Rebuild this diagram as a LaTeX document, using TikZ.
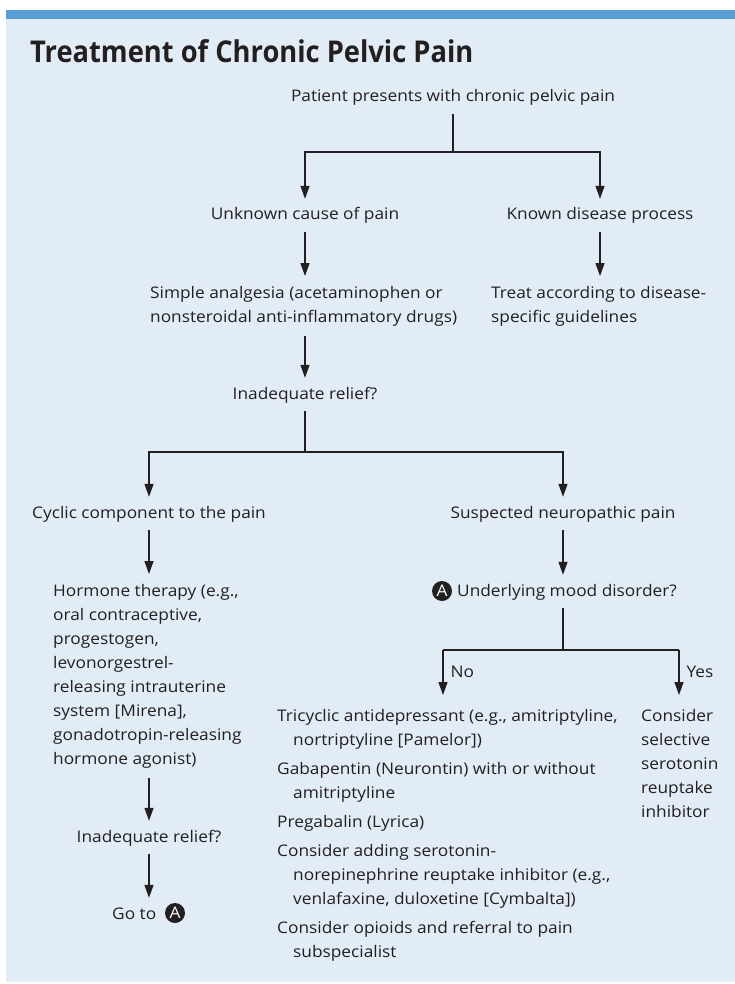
\documentclass[tikz,border=0pt]{standalone}
\usepackage{fontspec}
\setmainfont{Open Sans}[FakeStretch=1.08]
\newfontfamily\headfamily{Open Sans}[FakeStretch=0.91]
\usetikzlibrary{arrows.meta, positioning}
\definecolor{panel}{HTML}{E2ECF7}
\definecolor{bar}{HTML}{5A9FD4}
\definecolor{ink}{HTML}{231F20}
\newcommand*{\bodyfont}{\fontsize{16}{24}\selectfont}
\newcommand*{\headfont}{\headfamily\bfseries\fontsize{30}{36}\selectfont}
\tikzstyle{entry} = [inner sep=0pt, text=ink, font=\bodyfont, text height=21pt, text depth=12pt, anchor=base]
\tikzstyle{block} = [inner xsep=0pt, inner ysep=10pt, text=ink, font=\bodyfont, align=left, anchor=north west]
\tikzstyle{answer} = [inner sep=0pt, text=ink, font=\bodyfont, anchor=base west]
\tikzstyle{marker} = [circle, fill=ink, text=white, inner sep=0pt, minimum size=20pt, font=\bodyfont]
\tikzstyle{wire} = [draw=ink, line width=1.3pt]
\tikzstyle{link} = [wire, -{Triangle[length=13pt, width=9pt]}]

\begin{document}
\begin{tikzpicture}[x=1pt, y=-1pt]
    \useasboundingbox (0,0) rectangle (735,984);
    \fill [panel] (6,10) rectangle (735,982);
    \fill [bar] (6,10) rectangle (735,19);
    \node (title) [anchor=base west, inner sep=0pt, text=ink, font=\headfont] at (30,63) {Treatment of Chronic Pelvic Pain};

    % Top of the tree.
    \node (patient) [entry] at (453,102) {Patient presents with chronic pelvic pain};
    \node (unknown) [entry] at (305,220) {Unknown cause of pain};
    \node (known) [entry] at (600,220) {Known disease process};
    \node (analgesia) [block] at (150,276) {Simple analgesia (acetaminophen or\\nonsteroidal anti-inflammatory drugs)};
    \node (treat) [block] at (491,276) {Treat according to disease-\\specific guidelines};
    \node (relief) [entry] at (305,399) {Inadequate relief?};

    % Left branch.
    \node (cyclic) [entry] at (149,518) {Cyclic component to the pain};
    \node (hormone) [block] at (53,574) {Hormone therapy (e.g.,\\oral contraceptive,\\progestogen,\\levonorgestrel-\\releasing intrauterine\\system [Mirena],\\gonadotropin-releasing\\hormone agonist)};
    \node (relief again) [entry] at (149,842) {Inadequate relief?};
    \node (goto) [entry, anchor=base west] at (112,919) {Go to};
    \node (goto a) [marker] at (175,913) {A};

    % Right branch.
    \node (neuro) [entry] at (563,518) {Suspected neuropathic pain};
    \node (mood) [entry, anchor=base west] at (457,596) {Underlying mood disorder?};
    \node (mood a) [marker] at (442,591) {A};
    \node (drugs) [block, inner ysep=14pt] at (277,695) {Tricyclic antidepressant (e.g., amitriptyline,\\
        \hspace*{16pt}nortriptyline [Pamelor])\\[5pt]
        Gabapentin (Neurontin) with or without\\
        \hspace*{16pt}amitriptyline\\[5pt]
        Pregabalin (Lyrica)\\[5pt]
        Consider adding serotonin-\\
        \hspace*{16pt}norepinephrine reuptake inhibitor (e.g.,\\
        \hspace*{16pt}venlafaxine, duloxetine [Cymbalta])\\[5pt]
        Consider opioids and referral to pain\\
        \hspace*{16pt}subspecialist};
    \node (ssri) [block, inner ysep=14pt] at (641,695) {Consider\\selective\\serotonin\\reuptake\\inhibitor};

    \coordinate (fork top) at (453,152);
    \coordinate (fork mid) at (305,452);
    \coordinate (fork no) at (443,650);
    \coordinate (fork yes) at (679,650);

    % Arrows.
    \draw [wire] (patient) -- (fork top);
    \draw [link] (fork top) -| (unknown);
    \draw [link] (fork top) -| (known);
    \draw [link] (unknown) -- (unknown |- analgesia.north);
    \draw [link] (known) -- (known |- treat.north);
    \draw [link] (unknown |- analgesia.south) -- (relief);
    \draw [wire] (relief) -- (fork mid);
    \draw [link] (fork mid) -| (cyclic);
    \draw [link] (fork mid) -| (neuro);
    \draw [link] (cyclic) -- (cyclic |- hormone.north);
    \draw [link] (cyclic |- hormone.south) -- (relief again);
    \draw [link] (relief again) -- (relief again |- goto.north);
    \draw [link] (neuro) -- (neuro |- mood.north);
    \draw [wire] (neuro |- mood.south) -- (neuro |- fork no);
    \draw [wire] (fork no) -- (fork yes);
    \draw [link] (fork no) -- node [answer, pos=0.62, xshift=7pt] {No} (fork no |- drugs.north);
    \draw [link] (fork yes) -- node [answer, pos=0.62, xshift=7pt] {Yes} (fork yes |- ssri.north);
\end{tikzpicture}
\end{document}
